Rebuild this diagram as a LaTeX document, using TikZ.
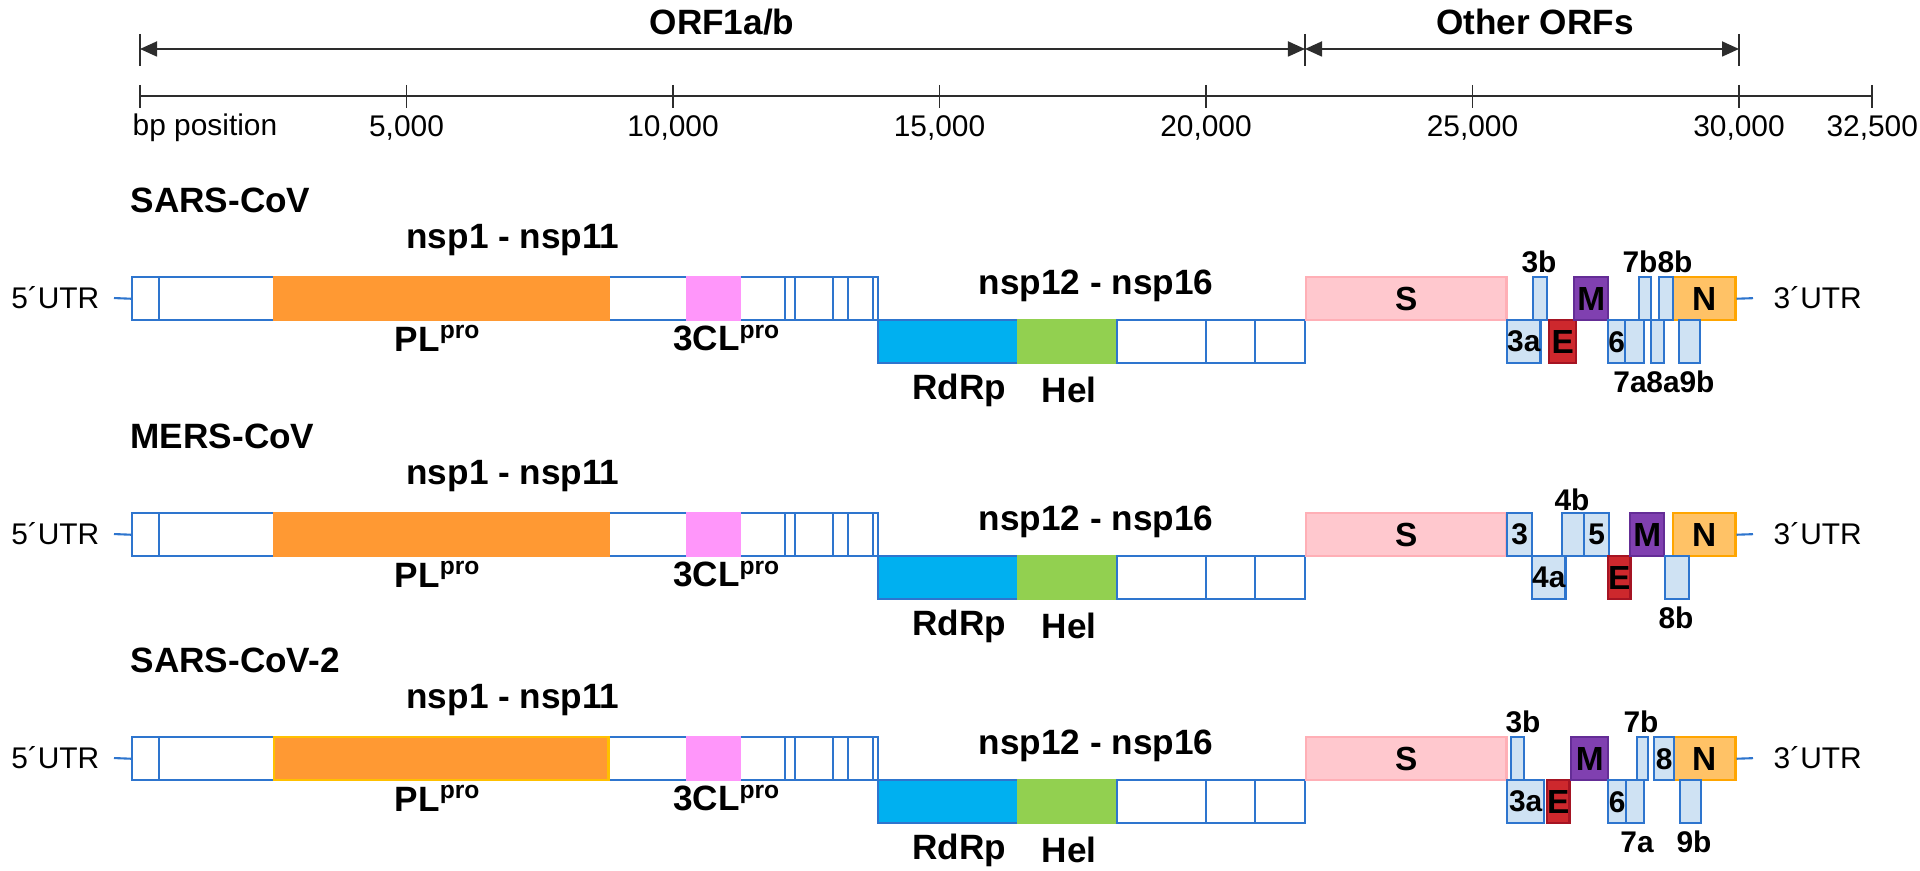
\documentclass[tikz,border=0pt]{standalone}
\usepackage{fontspec}
\setmainfont{Liberation Sans}
\usetikzlibrary{positioning,arrows.meta}

\definecolor{orfblue}{RGB}{46,117,206}
\definecolor{plorange}{RGB}{255,153,51}
\definecolor{plyellow}{RGB}{255,192,0}
\definecolor{clpink}{RGB}{255,150,250}
\definecolor{rdrpblue}{RGB}{0,176,240}
\definecolor{helgreen}{RGB}{146,208,80}
\definecolor{spink}{RGB}{255,200,206}
\definecolor{sline}{RGB}{255,175,182}
\definecolor{nfill}{RGB}{255,194,102}
\definecolor{nline}{RGB}{255,165,0}
\definecolor{mfill}{RGB}{128,64,176}
\definecolor{mline}{RGB}{100,45,150}
\definecolor{efill}{RGB}{205,40,45}
\definecolor{eline}{RGB}{165,20,35}
\definecolor{accfill}{RGB}{207,226,243}
\definecolor{axisgray}{RGB}{45,45,45}

% name, x1, x2, top, style, text
\newcommand{\orf}[6]{\node[#5,minimum width={(#3-#2)*0.01cm}] (#1) at (#2,#4) {#6};}

\begin{document}
\begin{tikzpicture}[x=0.01cm,y=-0.01cm,
    gcell/.style={draw=orfblue,fill=white,line width=0.7pt,minimum height=0.43cm,inner sep=0pt,anchor=north west,font=\fontsize{8.5}{10}\selectfont\bfseries},
    plcell/.style={gcell,fill=plorange},
    clcell/.style={gcell,fill=clpink,draw=clpink},
    rdcell/.style={gcell,fill=rdrpblue},
    helcell/.style={gcell,fill=helgreen,draw=helgreen},
    scell/.style={gcell,fill=spink,draw=sline,font=\fontsize{9.5}{11}\selectfont\bfseries},
    ncell/.style={gcell,fill=nfill,draw=nline,font=\fontsize{9.5}{11}\selectfont\bfseries},
    mcell/.style={gcell,fill=mfill,draw=mline,font=\fontsize{9.5}{11}\selectfont\bfseries},
    ecell/.style={gcell,fill=efill,draw=eline,font=\fontsize{9.5}{11}\selectfont\bfseries},
    acell/.style={gcell,fill=accfill},
    big/.style={font=\fontsize{10}{12}\selectfont\bfseries,inner sep=0pt},
    tag/.style={font=\fontsize{8.5}{10}\selectfont\bfseries,inner sep=0pt},
    plain/.style={font=\fontsize{8.5}{10}\selectfont,inner sep=0pt},
    utr/.style={draw=orfblue,line width=0.6pt},
    scaleline/.style={draw=axisgray,line width=0.5pt},
    span/.style={scaleline,{Triangle[length=0.17cm,width=0.15cm]}-{Triangle[length=0.17cm,width=0.15cm]}}]
  \useasboundingbox (0,0) rectangle (1920,871);

  % genome ruler
  \node[big] (orfab) at (722,22) {ORF1a/b};
  \node[big] (other) at (1535,22) {Other ORFs};
  \foreach \x/\n in {140/s0,1305/s1,1739/s2} {
    \coordinate (\n) at (\x,49);
    \draw[scaleline] (\x,34) -- (\x,66);
  }
  \draw[span] (s0) -- (s1);
  \draw[span] (s1) -- (s2);
  \coordinate (b0) at (140,96);
  \coordinate (b1) at (1872,96);
  \draw[scaleline] (b0) -- (b1);
  \draw[scaleline] (140,85) -- (140,108);
  \node[plain,anchor=west] (bp) at (132,128) {bp position};
  \foreach \v/\lab [count=\i] in {1/{5,000},2/{10,000},3/{15,000},4/{20,000},5/{25,000},6/{30,000},6.5/{32,500}} {
    \draw[scaleline] ({140+\v*266.5},85) -- ({140+\v*266.5},108);
    \node[plain] (tk\i) at ({140+\v*266.5},128) {\lab};
  }

  % the three genomes
  \foreach \r/\T/\virus/\pld in {1/276/SARS-CoV/plorange,2/512/MERS-CoV/plorange,3/736/SARS-CoV-2/plyellow} {
    \node[big,anchor=west] (name\r) at (130,\T-76) {\virus};
    \node[big] (nspa\r) at (513,\T-36) {nsp1 - nsp11};
    \node[big] (nspb\r) at (1096,\T+10) {nsp12 - nsp16};
    \foreach \a/\b [count=\k] in {131/158,158/273,607/686,739/784,784/794,794/832,832/847,847/872,872/877}
      \node[gcell,minimum width={(\b-\a)*0.01cm}] (w\r-\k) at (\a,\T) {};
    \node[plcell,draw=\pld,minimum width=3.34cm] (pl\r) at (273,\T) {};
    \node[clcell,minimum width=0.53cm] (cl\r) at (686,\T) {};
    \node[rdcell,minimum width=1.40cm] (rd\r) at (877,\T+43) {};
    \node[helcell,minimum width=0.99cm] (hel\r) at (1017,\T+43) {};
    \foreach \a/\b [count=\k] in {1116/1205,1205/1254,1254/1304}
      \node[gcell,minimum width={(\b-\a)*0.01cm}] (lw\r-\k) at (\a,\T+43) {};
    \node[big] (plab\r) at (438,\T+62) {PL\textsuperscript{pro}};
    \node[big] (clab\r) at (727,\T+62) {3CL\textsuperscript{pro}};
    \node[big] (rlab\r) at (959,\T+114) {RdRp};
    \node[big] (hlab\r) at (1069,\T+114) {Hel};
    \node[scell,minimum width=2.0cm] (S\r) at (1305,\T) {S};
    \node[ncell,minimum width=0.62cm] (N\r) at (1672,\T) {N};
    \node[plain,anchor=east] (five\r) at (100,\T+21.5) {5´UTR};
    \node[plain,anchor=west] (three\r) at (1773,\T+21.5) {3´UTR};
    \draw[utr,shorten <=0.14cm] (five\r.east) -- (w\r-1.west);
    \draw[utr,shorten >=0.2cm] (N\r.east) -- (three\r.west);
  }

  % SARS-CoV accessory ORFs
  \orf{a3b-1}{1532}{1546}{276}{acell}{}
  \orf{a3a-1}{1506}{1539}{319}{acell}{3a}
  \orf{E1}{1548}{1575}{319}{ecell}{E}
  \orf{M1}{1573}{1607}{276}{mcell}{M}
  \orf{a6-1}{1607}{1624}{319}{acell}{6}
  \orf{a7a-1}{1624}{1643}{319}{acell}{}
  \orf{a7b-1}{1638}{1650}{276}{acell}{}
  \orf{a8a-1}{1650}{1663}{319}{acell}{}
  \orf{a8b-1}{1658}{1672}{276}{acell}{}
  \orf{a9b-1}{1678}{1699}{319}{acell}{}
  \node[tag] (t3b-1) at (1539,262) {3b};
  \node[tag] (t7b-1) at (1640,262) {7b};
  \node[tag] (t8b-1) at (1675,262) {8b};
  \node[tag] (t7a-1) at (1630,382) {7a};
  \node[tag] (t8a-1) at (1663,382) {8a};
  \node[tag] (t9b-1) at (1697,382) {9b};

  % MERS-CoV accessory ORFs
  \orf{a3-2}{1506}{1531}{512}{acell}{3}
  \orf{a4a-2}{1531}{1562}{555}{acell}{4a}
  \orf{a4b-2}{1561}{1583}{512}{acell}{}
  \orf{a5-2}{1583}{1608}{512}{acell}{5}
  \orf{E2}{1607}{1629}{555}{ecell}{E}
  \orf{M2}{1629}{1663}{512}{mcell}{M}
  \orf{a8b-2}{1664}{1688}{555}{acell}{}
  \node[tag] (t4b-2) at (1572,500) {4b};
  \node[tag] (t8b-2) at (1676,618) {8b};

  % SARS-CoV-2 accessory ORFs
  \orf{a3b-3}{1510}{1523}{736}{acell}{}
  \orf{a3a-3}{1506}{1543}{779}{acell}{3a}
  \orf{E3}{1546}{1568}{779}{ecell}{E}
  \orf{M3}{1570}{1607}{736}{mcell}{M}
  \orf{a6-3}{1607}{1625}{779}{acell}{6}
  \orf{a7a-3}{1625}{1643}{779}{acell}{}
  \orf{a7b-3}{1636}{1647}{736}{acell}{}
  \orf{a8-3}{1653}{1673}{736}{acell}{8}
  \orf{a9b-3}{1679}{1700}{779}{acell}{}
  \node[tag] (t3b-3) at (1523,722) {3b};
  \node[tag] (t7b-3) at (1641,722) {7b};
  \node[tag] (t7a-3) at (1637,842) {7a};
  \node[tag] (t9b-3) at (1694,842) {9b};
\end{tikzpicture}
\end{document}
